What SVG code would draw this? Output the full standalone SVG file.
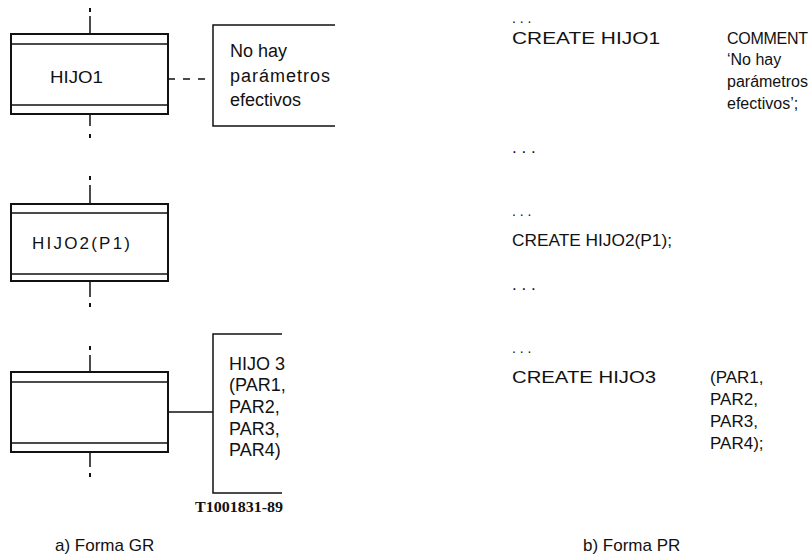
<svg xmlns="http://www.w3.org/2000/svg" width="811" height="557" viewBox="0 0 811 557">
<style>
text{font-family:"Liberation Sans",Arial,sans-serif;font-size:17px;fill:#111}
.c{font-size:18px}
.s{font-size:16px}
.d{font-size:14px}
.serif{font-family:"Liberation Serif","Times New Roman",serif;font-size:14px;font-weight:bold}
.outer{fill:none;stroke:#111;stroke-width:2}
.inner{fill:none;stroke:#111;stroke-width:1.5}
.ln{fill:none;stroke:#111;stroke-width:1.5}
.dash{fill:none;stroke:#111;stroke-width:1.5;stroke-dasharray:7 8}
.dot{fill:none;stroke:#111;stroke-width:2}
</style>
<rect width="811" height="557" fill="#fff"/>
<g id="connectors">
<path class="dot" d="M90 8V12M90 134V138M90 176V180M90 303V307M90 346V350M90 473V477"/>
<path class="ln" d="M90 16V34M90 114V126M90 185V204M90 281V297M90 355V372M90 452V467"/>
<path class="dash" d="M168 79H213"/>
<path class="ln" d="M168 412H213"/>
</g>
<g id="hijo1">
<rect class="outer" x="11" y="34" width="157" height="80"/>
<path class="inner" d="M11 44H168M11 105H168"/>
<text x="50" y="83" textLength="53" lengthAdjust="spacingAndGlyphs">HIJO1</text>
</g>
<g id="comment1">
<path class="ln" d="M335 25H213V126H335"/>
<text class="c" x="230" y="57">No hay</text>
<text class="c" x="230" y="82" textLength="100" lengthAdjust="spacing">parámetros</text>
<text class="c" x="230" y="106">efectivos</text>
</g>
<g id="hijo2">
<rect class="outer" x="11" y="204" width="157" height="77"/>
<path class="inner" d="M11 213H168M11 274H168"/>
<text x="32" y="249" textLength="98" lengthAdjust="spacing">HIJO2(P1)</text>
</g>
<g id="hijo3">
<rect class="outer" x="11" y="372" width="157" height="80"/>
<path class="inner" d="M11 382H168M11 443H168"/>
</g>
<g id="comment3">
<path class="ln" d="M282 334H213V493H282"/>
<text class="c" x="229" y="370">HIJO 3</text>
<text class="c" x="229" y="391">(PAR1,</text>
<text class="c" x="229" y="413">PAR2,</text>
<text class="c" x="229" y="435">PAR3,</text>
<text class="c" x="229" y="456">PAR4)</text>
</g>
<text class="serif" x="195" y="512" textLength="88" lengthAdjust="spacingAndGlyphs">T1001831-89</text>
<text x="55" y="551">a) Forma GR</text>
<g id="pr">
<text class="d" x="512" y="23">. . .</text>
<text x="512" y="44" textLength="148" lengthAdjust="spacingAndGlyphs">CREATE HIJO1</text>
<text class="s" x="727" y="44" textLength="81" lengthAdjust="spacing">COMMENT</text>
<text class="s" x="727" y="65">‘No hay</text>
<text class="s" x="727" y="87">parámetros</text>
<text class="s" x="727" y="109">efectivos’;</text>
<text x="512" y="153">. . .</text>
<text class="d" x="512" y="216">. . .</text>
<text x="512" y="246" textLength="160" lengthAdjust="spacingAndGlyphs">CREATE HIJO2(P1);</text>
<text x="512" y="290">. . .</text>
<text class="d" x="512" y="353">. . .</text>
<text x="512" y="383" textLength="144" lengthAdjust="spacingAndGlyphs">CREATE HIJO3</text>
<text x="710" y="383">(PAR1,</text>
<text x="710" y="405">PAR2,</text>
<text x="710" y="427">PAR3,</text>
<text x="710" y="449">PAR4);</text>
<text x="583" y="551">b) Forma PR</text>
</g>
</svg>
